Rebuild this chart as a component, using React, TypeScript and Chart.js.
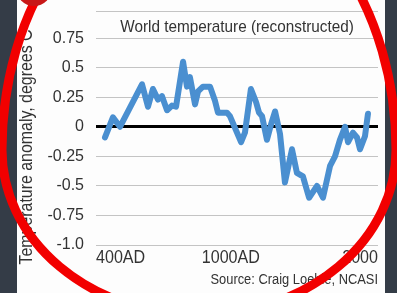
import React, { useEffect, useRef } from 'react';
import { Chart, registerables } from 'chart.js';

Chart.register(...registerables);

// Reconstructed world temperature anomaly (degrees C)
const years = [
  451, 496, 536, 661, 695, 723, 752, 774, 803, 831, 854, 894, 916, 933, 962, 979,
  1007, 1047, 1075, 1092, 1143, 1160, 1183, 1223, 1245, 1279, 1308, 1325, 1342,
  1370, 1393, 1416, 1444, 1472, 1512, 1540, 1574, 1609, 1654, 1688, 1728, 1756,
  1784, 1813, 1830, 1858, 1881, 1898, 1926, 1943,
];
const anomalies = [
  -0.09, 0.08, 0.0, 0.36, 0.17, 0.32, 0.23, 0.26, 0.14, 0.18, 0.17, 0.55, 0.34, 0.42, 0.19, 0.3,
  0.34, 0.34, 0.22, 0.12, 0.12, 0.09, 0.01, -0.13, -0.05, 0.32, 0.21, 0.12, 0.09,
  -0.11, 0.02, 0.13, -0.06, -0.47, -0.19, -0.39, -0.42, -0.6, -0.5, -0.6, -0.33, -0.25,
  -0.11, 0.0, -0.13, -0.05, -0.09, -0.19, -0.08, 0.11,
];

const yTickValues = [-1.0, -0.75, -0.5, -0.25, 0, 0.25, 0.5, 0.75];
const yTickLabels = ['-1.0', '-0.75', '-0.5', '-0.25', '0', '0.25', '0.5', '0.75'];
const yMin = -1.0;
const yMax = 0.98;

const xMin = 400;
const xMax = 2000;
const xTickValues = [400, 1000, 2000];
const xTickLabels = ['400AD', '1000AD', '2000'];
const xTickAligns: CanvasTextAlign[] = ['left', 'left', 'right'];

const chartTitle = 'World temperature (reconstructed)';
const yAxisTitle = 'Temperature anomaly, degrees C';
const sourceText = 'Source: Craig Loehle, NCASI';

const FONT = '"Liberation Sans", Arial, sans-serif';
const TEXT = '#333333';

function narrowText(
  ctx: CanvasRenderingContext2D,
  text: string,
  x: number,
  y: number,
  size: number,
  sx: number,
  align: CanvasTextAlign,
  rotate = 0,
) {
  ctx.save();
  ctx.translate(x, y);
  if (rotate) ctx.rotate(rotate);
  ctx.scale(sx, 1);
  ctx.font = `${size}px ${FONT}`;
  ctx.textAlign = align;
  ctx.textBaseline = 'middle';
  ctx.fillStyle = TEXT;
  ctx.fillText(text, 0, 0);
  ctx.restore();
}

const decorPlugin = {
  id: 'decor',
  beforeDraw(chart: any) {
    const { ctx, width, height } = chart;
    ctx.save();
    ctx.fillStyle = '#343c47';
    ctx.fillRect(0, 0, width, height);
    ctx.fillStyle = '#fdfdfd';
    ctx.fillRect(17, 0, 368, height);
    ctx.restore();
  },
  afterDraw(chart: any) {
    const { ctx, chartArea, scales } = chart;
    const xs = scales.x;
    narrowText(ctx, chartTitle, (chartArea.left + chartArea.right) / 2, 27, 17, 0.9, 'center');
    xTickValues.forEach((v, i) => {
      narrowText(ctx, xTickLabels[i], xs.getPixelForValue(v), 258, 18.5, 0.87, xTickAligns[i]);
    });
    narrowText(ctx, sourceText, chartArea.right, 280, 14, 0.92, 'right');
    narrowText(ctx, yAxisTitle, 27, 147, 17.5, 0.91, 'center', -Math.PI / 2);

    // red hand-drawn annotation ring
    const cx = 199;
    const cy = 150;
    const rx = 197;
    ctx.save();
    ctx.strokeStyle = '#f20000';
    ctx.lineWidth = 9;
    ctx.beginPath();
    ctx.ellipse(cx, cy, rx, 269, 0, Math.PI, Math.PI * 2);
    ctx.ellipse(cx, cy, rx, 165, 0, 0, Math.PI);
    ctx.closePath();
    ctx.stroke();
    ctx.fillStyle = '#c81818';
    ctx.beginPath();
    ctx.arc(34, -12, 18, 0, Math.PI * 2);
    ctx.fill();
    ctx.restore();
  },
};

export default function App() {
  const canvasRef = useRef<HTMLCanvasElement | null>(null);

  useEffect(() => {
    if (!canvasRef.current) return;
    const chart = new Chart(canvasRef.current, {
      type: 'line',
      data: {
        datasets: [
          {
            data: years.map((x, i) => ({ x, y: anomalies[i] })),
            borderColor: '#4a8fd0',
            borderWidth: 6,
            pointRadius: 0,
            tension: 0,
            borderJoinStyle: 'round',
            borderCapStyle: 'round',
            fill: false,
          },
        ],
      },
      options: {
        animation: false,
        responsive: false,
        layout: { padding: { left: 0, right: 19, top: 11, bottom: 0 } },
        plugins: { legend: { display: false }, tooltip: { enabled: false } },
        scales: {
          x: {
            type: 'linear',
            min: xMin,
            max: xMax,
            ticks: { display: false },
            grid: { display: false },
            border: { display: false },
            afterFit: (s: any) => {
              s.height = 48;
              s.paddingLeft = 0;
              s.paddingRight = 0;
            },
          },
          y: {
            min: yMin,
            max: yMax,
            afterBuildTicks: (s: any) => {
              s.ticks = [...yTickValues, yMax].map((value) => ({ value }));
            },
            afterFit: (s: any) => {
              s.width = 96;
              s.paddingTop = 0;
              s.paddingBottom = 0;
            },
            border: { display: false },
            grid: {
              drawTicks: false,
              color: (c: any) => (c.tick && c.tick.value === 0 ? '#000000' : '#c4c4c4'),
              lineWidth: (c: any) => (c.tick && c.tick.value === 0 ? 3 : 1),
            },
            ticks: {
              padding: 12,
              color: TEXT,
              font: { family: FONT, size: 16 },
              callback: (v: any) => {
                const i = yTickValues.indexOf(Number(v));
                return i >= 0 ? yTickLabels[i] : '';
              },
            },
          },
        },
      },
      plugins: [decorPlugin],
    });
    return () => chart.destroy();
  }, []);

  return (
    <div style={{ position: 'fixed', left: 0, top: 0, width: 397, height: 293 }}>
      <canvas ref={canvasRef} width={397} height={293} />
    </div>
  );
}
